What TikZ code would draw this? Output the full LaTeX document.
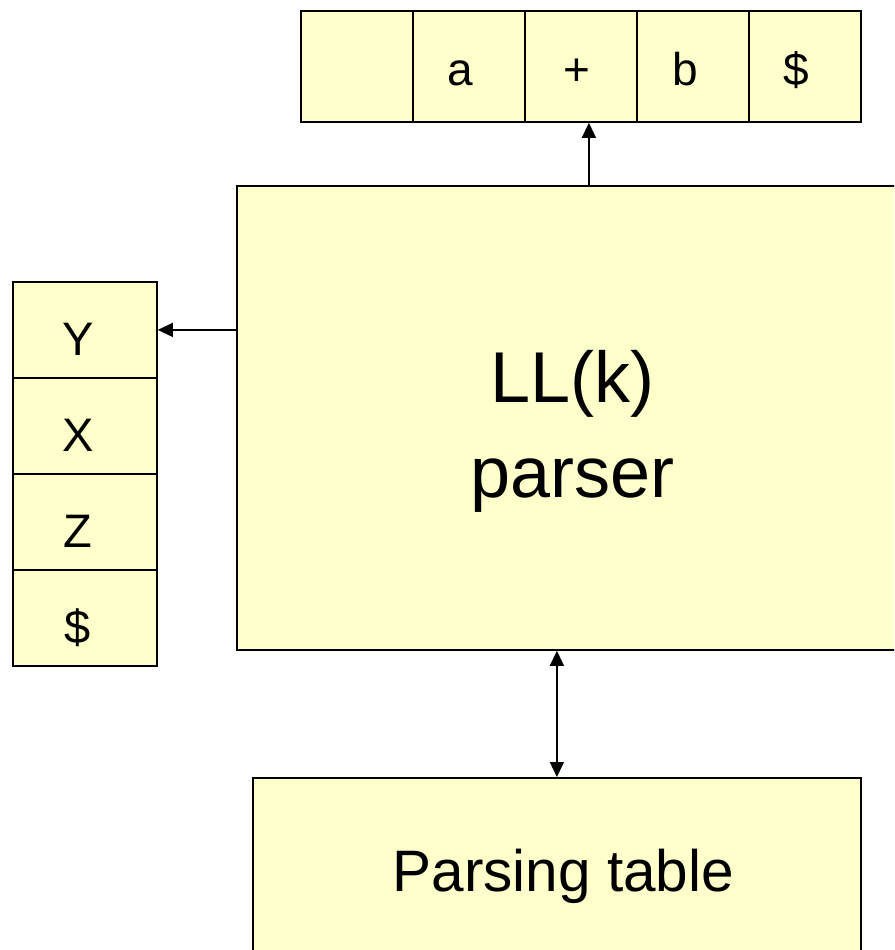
\documentclass[tikz,border=0pt]{standalone}
\usepackage{fontspec}
\setmainfont{Liberation Sans}
\usetikzlibrary{arrows.meta,calc}
\definecolor{boxfill}{HTML}{FFFFCC}
\begin{document}
\begin{tikzpicture}[x=1pt,y=-1pt,
  box/.style={draw=black,line width=1.8pt,fill=boxfill,inner sep=0pt,anchor=north west},
  cell/.style={box,minimum width=112pt,minimum height=111pt,font=\fontsize{46}{50}\selectfont,text height=44pt,text depth=5pt},
  scell/.style={box,minimum width=144pt,minimum height=96pt,font=\fontsize{47}{50}\selectfont,text height=56pt,text depth=4pt},
  tip/.tip={Triangle[length=15pt,width=14pt]},
  conn/.style={line width=1.4pt,-tip},
  dconn/.style={line width=1.4pt,tip-tip}]
\clip (0,0) rectangle (894,950);
% input tape
\node[cell] (t1) at (300,10) {};
\node[cell] (t2) at (412,10) {a\kern18pt};
\node[cell] (t3) at (524,10) {+\kern8pt};
\node[cell] (t4) at (636,10) {b\kern16pt};
\node[cell] (t5) at (748,10) {\$\kern18pt};
% stack
\node[scell] (s1) at (12,281) {Y\kern14pt};
\node[scell] (s2) at (12,377) {X\kern14pt};
\node[scell] (s3) at (12,473) {Z\kern14pt};
\node[scell] (s4) at (12,569) {\$\kern14pt};
% parser
\node[box,minimum width=672pt,minimum height=464pt,align=center,
  font=\fontsize{72}{95}\selectfont] (ll) at (236,185) {\rule{0pt}{79pt}LL(k)\\parser};
% parsing table
\node[box,minimum width=608pt,minimum height=196pt,font=\fontsize{58.5}{66}\selectfont] (pt) at (252,777) {\kern13pt Parsing table};
% connectors
\draw[conn] ($(ll.north -| t3.south)+(8,0)$) -- ($(t3.south)+(8,0)$);
\draw[conn] (ll.west |- s1.east) -- (s1.east);
\draw[dconn] (ll.south -| pt.north) -- (pt.north);
\end{tikzpicture}
\end{document}
